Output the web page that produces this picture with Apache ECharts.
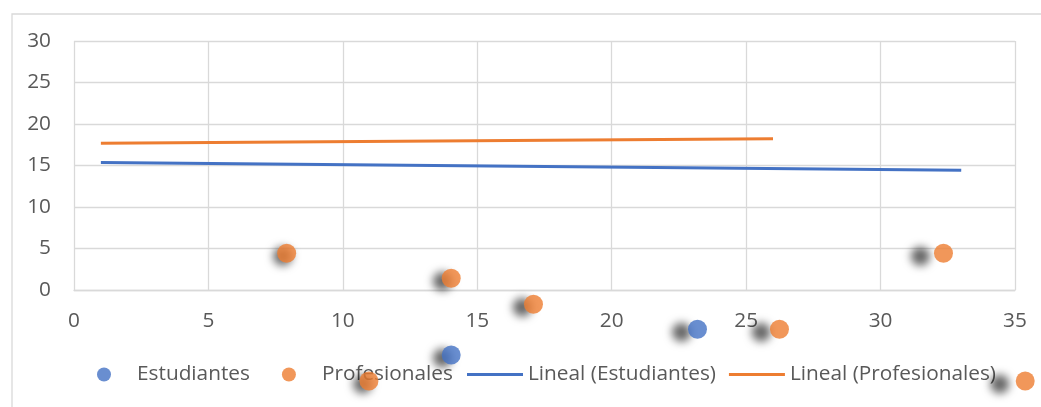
<!DOCTYPE html>
<html>
<head>
<meta charset="utf-8">
<script src="https://cdn.jsdelivr.net/npm/echarts@6/dist/echarts.min.js"></script>
<style>
  html, body { margin: 0; padding: 0; background: #fff; }
  #chart { width: 1041px; height: 407px; }
</style>
</head>
<body>
<div id="chart"></div>
<script>
// values
var estudiantes = [[14.03, -7.83], [23.19, -4.73]];
var profesionales = [
  [7.91, 4.42], [14.03, 1.41], [17.09, -1.72], [26.24, -4.73],
  [32.34, 4.42], [10.97, -10.96], [35.38, -10.96]
];
// trendline end points
var linealEstudiantes = [[1, 15.35], [33, 14.42]];
var linealProfesionales = [[1, 17.67], [26, 18.23]];

var xTicks = [0, 35, 5];
var yTicks = [0, 30, 5];

var font = '"Open Sans", sans-serif';
var grey = '#595959';
var gridColor = '#d9d9d9';
var fs = 20.8;

// shadow drifts left the further right the point is
function points(list) {
  return list.map(function (p) {
    return {
      value: p,
      itemStyle: {
        shadowBlur: 9,
        shadowColor: 'rgba(0,0,0,0.75)',
        shadowOffsetX: -4 - 0.78 * (p[0] - 7.9),
        shadowOffsetY: 3
      }
    };
  });
}

var legendText = { fontSize: fs, color: grey, fontFamily: font };

var chart = echarts.init(document.getElementById('chart'));
chart.setOption({
  animation: false,
  textStyle: { fontFamily: font },
  graphic: [{
    type: 'rect',
    left: 9.5, top: 11.5,
    shape: { width: 1200, height: 600 },
    style: { fill: 'none', stroke: gridColor, lineWidth: 1.3 },
    silent: true
  }],
  grid: { left: 74, right: 26, top: 41, bottom: 117 },
  legend: [{
    left: 92,
    top: 359,
    itemWidth: 56,
    itemHeight: 14,
    itemGap: 32,
    textStyle: legendText,
    data: [
      { name: 'Estudiantes', icon: 'circle' },
      { name: 'Profesionales', icon: 'circle' }
    ]
  }, {
    left: 462,
    top: 359,
    itemWidth: 56,
    itemHeight: 14,
    itemGap: 13,
    textStyle: legendText,
    data: [
      { name: 'Lineal (Estudiantes)', icon: 'path://M0,0H56V3H0Z' },
      { name: 'Lineal (Profesionales)', icon: 'path://M0,0H56V3H0Z' }
    ]
  }],
  xAxis: {
    type: 'value',
    min: xTicks[0], max: xTicks[1], interval: xTicks[2],
    axisLine: { show: true, onZero: false, lineStyle: { color: gridColor, width: 1.3 } },
    axisTick: { show: false },
    axisLabel: { fontSize: fs, color: grey, margin: 21 },
    splitLine: { lineStyle: { color: gridColor, width: 1.3 } }
  },
  yAxis: {
    type: 'value',
    min: yTicks[0], max: yTicks[1], interval: yTicks[2],
    axisLine: { show: false },
    axisTick: { show: false },
    axisLabel: { fontSize: fs, color: grey, margin: 23 },
    splitLine: { lineStyle: { color: gridColor, width: 1.3 } }
  },
  series: [{
    name: 'Estudiantes',
    type: 'scatter',
    clip: false,
    z: 10,
    symbolSize: 19,
    itemStyle: { color: '#4472C4' },
    data: points(estudiantes)
  }, {
    name: 'Profesionales',
    type: 'scatter',
    clip: false,
    z: 10,
    symbolSize: 19,
    itemStyle: { color: '#ED7D31' },
    data: points(profesionales)
  }, {
    name: 'Lineal (Estudiantes)',
    type: 'line',
    symbol: 'none',
    itemStyle: { color: '#4472C4' },
    lineStyle: { color: '#4472C4', width: 3 },
    data: linealEstudiantes
  }, {
    name: 'Lineal (Profesionales)',
    type: 'line',
    symbol: 'none',
    itemStyle: { color: '#ED7D31' },
    lineStyle: { color: '#ED7D31', width: 3 },
    data: linealProfesionales
  }]
});
</script>
</body>
</html>
